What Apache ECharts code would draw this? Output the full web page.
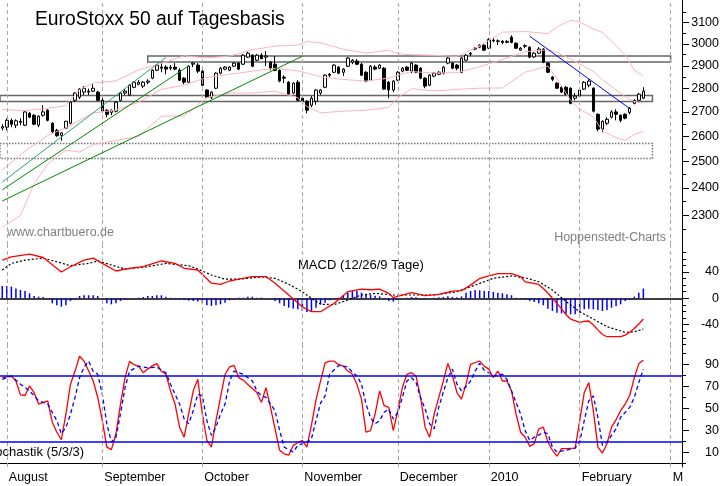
<!DOCTYPE html>
<html>
<head>
<meta charset="utf-8">
<script src="https://cdn.jsdelivr.net/npm/echarts@6/dist/echarts.min.js"></script>
<style>
  html, body { margin: 0; padding: 0; background: #fff; }
  #chart { width: 723px; height: 486px; }
</style>
</head>
<body>
<div id="chart"></div>
<script>
// Handelstage (Jul 31 2009 .. Mar 3 2010), ohne Wochenenden/Feiertage
const holidays = ['2009-12-24', '2009-12-25', '2009-12-31', '2010-01-01'];
function tradingDays(from, to) {
  const out = [];
  let d = new Date(from + 'T00:00:00Z');
  const end = new Date(to + 'T00:00:00Z');
  while (d <= end) {
    const s = d.toISOString().slice(0, 10);
    const wd = d.getUTCDay();
    if (wd !== 0 && wd !== 6 && holidays.indexOf(s) < 0) out.push(s);
    d = new Date(d.getTime() + 86400000);
  }
  return out;
}
const days = tradingDays('2009-07-31', '2010-03-03');

const monthNames = {
  '2009-08': 'August', '2009-09': 'September', '2009-10': 'October',
  '2009-11': 'November', '2009-12': 'December', '2010-01': '2010',
  '2010-02': 'February', '2010-03': 'M'
};

// Kerzen: [open, high, low, close]
const candles = [
  [2633,2649,2624,2639],[2637,2673,2624,2665],[2665,2673,2637,2649],[2645,2669,2633,2663],[2661,2673,2645,2657],
  [2645,2703,2641,2700],[2694,2700,2674,2678],[2686,2690,2645,2649],[2645,2686,2637,2682],[2686,2728,2680,2700],
  [2707,2711,2661,2665],[2653,2657,2614,2618],[2624,2630,2598,2602],[2604,2616,2582,2614],[2633,2663,2629,2661],
  [2653,2745,2649,2741],[2749,2784,2741,2780],[2762,2801,2754,2797],[2784,2810,2771,2801],[2788,2799,2771,2784],
  [2788,2818,2784,2801],[2784,2790,2745,2749],[2749,2758,2698,2703],[2707,2711,2678,2690],[2698,2711,2686,2707],
  [2703,2745,2698,2741],[2749,2784,2745,2780],[2780,2797,2771,2788],[2771,2818,2767,2814],[2805,2832,2801,2827],
  [2818,2836,2814,2827],[2810,2832,2801,2827],[2827,2840,2818,2832],[2845,2884,2840,2880],[2880,2907,2876,2903],
  [2894,2912,2871,2889],[2894,2903,2862,2885],[2889,2903,2880,2894],[2894,2912,2880,2885],[2880,2889,2832,2836],
  [2845,2849,2818,2827],[2827,2903,2823,2898],[2907,2916,2894,2912],[2903,2912,2867,2876],[2876,2880,2810,2814],
  [2793,2797,2758,2762],[2762,2788,2754,2784],[2801,2871,2797,2867],[2867,2894,2862,2889],[2885,2898,2880,2894],
  [2880,2898,2876,2894],[2898,2916,2894,2912],[2912,2916,2880,2885],[2907,2953,2903,2948],[2939,2967,2935,2957],
  [2948,2953,2894,2898],[2925,2953,2921,2948],[2948,2957,2930,2932],[2939,2967,2898,2944],[2916,2921,2880,2889],
  [2907,2944,2876,2880],[2880,2885,2827,2832],[2849,2858,2823,2845],[2827,2832,2771,2775],[2780,2827,2775,2823],
  [2827,2836,2745,2749],[2758,2771,2741,2745],[2745,2749,2694,2707],[2728,2767,2720,2758],[2745,2797,2730,2793],
  [2780,2797,2771,2793],[2805,2862,2801,2858],[2862,2867,2849,2858],[2871,2907,2867,2903],[2894,2898,2862,2867],
  [2871,2889,2854,2885],[2898,2939,2894,2935],[2916,2930,2907,2925],[2921,2930,2903,2907],[2907,2912,2854,2858],
  [2871,2876,2827,2832],[2836,2903,2832,2898],[2894,2903,2880,2885],[2889,2907,2885,2903],[2889,2894,2793,2797],
  [2827,2832,2758,2793],[2793,2836,2784,2832],[2836,2876,2832,2871],[2876,2894,2871,2889],[2894,2898,2876,2880],
  [2876,2916,2867,2912],[2903,2907,2867,2871],[2889,2894,2840,2845],[2845,2849,2801,2810],[2814,2862,2810,2858],
  [2854,2871,2849,2867],[2862,2876,2858,2871],[2867,2898,2862,2894],[2912,2939,2907,2935],[2912,2916,2885,2889],
  [2903,2907,2880,2889],[2871,2939,2867,2935],[2925,2953,2921,2948],[2953,2962,2944,2957],[2976,2985,2971,2980],
  [2985,2998,2980,2994],[2994,2998,2967,2971],[2980,3026,2976,3021],[3017,3026,3007,3014],[3012,3021,2994,3014],
  [3012,3017,2998,3007],[3007,3017,3003,3012],[3031,3040,3003,3007],[3003,3007,2976,2980],[2971,2985,2967,2980],
  [2989,2998,2980,2992],[2985,2989,2935,2939],[2940,2962,2935,2957],[2957,2985,2953,2976],[2976,2980,2912,2916],
  [2912,2916,2867,2871],[2850,2854,2832,2840],[2823,2827,2797,2801],[2805,2810,2780,2784],[2805,2810,2771,2775],
  [2801,2805,2732,2736],[2758,2780,2749,2767],[2767,2797,2762,2793],[2797,2832,2793,2827],[2814,2840,2805,2832],
  [2801,2805,2698,2703],[2690,2694,2620,2629],[2629,2665,2616,2661],[2653,2678,2645,2669],[2678,2707,2673,2700],
  [2700,2711,2665,2690],[2686,2690,2657,2665],[2690,2694,2669,2674],[2698,2720,2690,2715],[2736,2753,2732,2749],
  [2749,2780,2745,2775],[2758,2805,2754,2788]
];

// Bollinger-Bänder: [Tag-Index, Kurs]
const bbUpper = [[0,2710],[5,2705],[10,2715],[14,2727],[17,2795],[20,2823],[25,2833],[30,2882],[35,2910],[40,2945],
  [45,2935],[50,2944],[55,2972],[60,2990],[65,2994],[67,3011],[70,3005],[75,2975],[80,2957],[85,2971],[87,2955],
  [90,2950],[95,2947],[100,2943],[105,2991],[110,3055],[115,3058],[120,3048],[122,3080],[125,3112],[127,3104],
  [130,3070],[132,3054],[135,2993],[137,2948],[139,2880],[141,2855]];
const bbMiddle = [[0,2468],[5,2540],[10,2603],[14,2634],[17,2665],[20,2695],[25,2708],[30,2741],[35,2796],[40,2814],
  [45,2848],[50,2862],[55,2876],[60,2889],[65,2877],[67,2867],[70,2851],[75,2839],[80,2832],[85,2845],[87,2858],
  [90,2874],[95,2868],[100,2869],[105,2896],[110,2928],[115,2964],[120,2973],[122,2961],[125,2930],[127,2908],
  [130,2874],[132,2838],[135,2793],[137,2765],[139,2744],[141,2737]];
const bbLower = [[0,2258],[4,2300],[7,2415],[10,2490],[14,2545],[17,2537],[20,2567],[25,2583],[30,2600],[35,2682],
  [40,2683],[45,2761],[50,2780],[55,2780],[60,2788],[65,2760],[67,2723],[70,2696],[75,2703],[80,2707],[85,2719],
  [87,2760],[90,2799],[95,2789],[100,2796],[105,2801],[110,2802],[115,2871],[120,2899],[122,2843],[125,2748],
  [127,2712],[130,2679],[132,2622],[135,2594],[137,2583],[139,2608],[141,2619]];

// Unterstützungs-/Widerstandszonen
const zones = [
  { from: null, to: 143, lo: 2744, hi: 2769, dotted: false },
  { from: 32, to: 147, lo: 2917, hi: 2944, dotted: false },
  { from: null, to: 143, lo: 2512, hi: 2571, dotted: true }
];
// Trendlinien: [[Index, Kurs], [Index, Kurs], Farbe]
const trendLines = [
  [[0, 2422], [36, 2938], '#2f9f70'],
  [[0, 2393], [41, 2900], '#008a00'],
  [[0, 2352], [66, 2943], '#008a00'],
  [[116, 3036], [138, 2714], '#0000ff']
];

// MACD (12/26/9)
const macdLine = [[0,58],[2,63],[6,67],[9,62],[11,51],[13,40],[15,48],[18,58],[20,61],[22,53],[25,41.5],[27,44.5],
  [31,48],[35,56.7],[38,53],[40,45.6],[43,43],[46,23],[48,21.3],[50,26.3],[52,29],[55,33],[58,33],[60,23],[63,5],
  [66,-13],[68,-20.4],[70,-20.4],[73,-7.6],[76,10],[79,14],[81,13],[83,14],[85,7.6],[86,1],[88,5],[90,8.5],[93,4],
  [96,6],[99,11],[101,11.6],[103,20],[105,30],[107,34],[109,37.4],[112,37.4],[114,33],[115,25],[118,21],[119,15],
  [120,8],[121,0],[122,-7.6],[123,-16],[124,-25],[125,-31.5],[127,-36.5],[128,-35],[129,-34.5],[130,-40.6],
  [131,-48],[132,-55],[133,-58.4],[136,-58.4],[137,-56],[138,-51.7],[139,-46],[140,-39],[141,-31.5]];
const macdSignal = [[0,43],[2,53],[5,58],[9,61],[12,55.6],[15,49.5],[19,53],[21,56.7],[24,50.6],[27,44.5],[32,48],
  [36,53],[41,49.5],[43,44.5],[46,35.4],[49,29],[52,29],[57,32.4],[60,30.4],[63,21.3],[66,10],[68,0],[70,-9],
  [73,-9.6],[76,-2.6],[79,5],[82,7.6],[86,5],[90,5],[95,5],[100,10],[104,20],[108,30.4],[112,34],[115,31.3],
  [118,25.2],[121,12.6],[124,-5],[127,-20.4],[130,-31.5],[133,-43.2],[137,-51.7],[139,-51],[141,-46.7]];
const macdHist = [18.7,18.7,17.7,14.7,12.7,11.1,7.6,3.5,2.5,2,0,-7.6,-10.6,-12.7,-10.6,-4,-1.5,3.5,4.6,4.6,
  4.6,3.5,0,-7.6,-9.1,-7.6,-4,-1.5,0,0,1,2,3.5,3.5,4.6,4.6,2.5,1,-0.5,-1.5,
  -2.5,-3.5,-4,-5,-7.6,-10.6,-11.6,-10.6,-9.1,-6.6,-3,-0.5,1,1,2.5,2.5,1,1,0,0,
  -4,-7.6,-11.6,-14.2,-15.7,-16.7,-19.3,-20.8,-19.3,-14.2,-9.1,-6.6,-3,-0.5,1,4.6,8.6,11.1,11.1,8.6,
  5,5,4,3,-1,-4,-5,-2,0,1,2,1.5,0,-1,0,1,1.5,2,3,2,
  1.5,3,8.6,11.1,12.7,12.2,11.1,11.1,9.6,8.6,7.6,6.1,4.6,1,-1,-1.5,-4,-5.6,-7.6,-10.6,
  -15.7,-19.3,-21.8,-22.8,-23.3,-24.3,-24.3,-21.8,-16.7,-15.7,-16.7,-17.7,-19.3,-17.7,-14.2,-11.6,-9.1,-4,-2.5,2.5,
  8.6,14.7];

// Stochastik (5/3/3)
const stochK = [[0,78.2],[2,79.7],[3,75.2],[4,62.6],[5,62],[6,70.7],[7,64.7],[8,54.2],[10,57.2],[11,37.7],[12,28.6],
  [13,21.8],[14,45.2],[15,72.3],[16,84.2],[17,97.7],[18,93.2],[19,84.2],[20,75.2],[21,60.2],[22,39.2],[23,15.1],
  [24,12.8],[25,27.2],[26,54.2],[27,78.2],[28,93],[29,90],[30,88.5],[31,82.7],[32,86],[33,89],[34,91],[35,84],
  [36,81.3],[37,66.2],[38,54.2],[39,33.2],[40,24.1],[41,45.2],[42,66.2],[43,76.8],[44,45],[45,21.2],[46,15.1],
  [47,39.2],[48,60.2],[49,81.3],[50,88],[51,89.4],[52,78.2],[53,76],[54,72],[56,64.7],[57,55.7],[58,69.2],[59,51.2],
  [60,31.7],[61,12.2],[62,9],[63,7.7],[64,16.7],[65,19],[66,21.2],[67,15.1],[68,35],[69,58],[70,75],[71,91.7],
  [72,93.2],[73,93.2],[74,90],[75,88.7],[76,84.2],[77,81.3],[78,72.3],[79,58.7],[80,28.6],[81,30.1],[82,45.2],
  [83,66.2],[84,52.7],[85,51.2],[86,30.1],[87,48.2],[88,69.2],[89,81.3],[90,82.7],[91,79.7],[92,60.2],[93,33.2],
  [94,24.1],[95,45.2],[96,60],[97,75.2],[98,91.2],[99,80],[100,64.7],[101,58.7],[102,72.3],[103,90.3],[104,92],
  [105,93.2],[106,88.7],[107,86],[108,78.2],[109,84.2],[110,75.2],[111,75.2],[112,66.2],[113,45.2],[114,28.6],
  [115,24.1],[116,15.8],[117,18.2],[118,31.7],[119,33.2],[120,19.7],[121,12.2],[122,6.8],[123,13.7],[124,13.7],
  [126,14.2],[127,39.2],[128,64.7],[129,73.7],[130,48.2],[131,15.1],[132,9.7],[133,18.2],[134,33.2],[135,40],
  [136,48.2],[137,54.2],[138,62],[139,78],[140,91],[141,94.1]];
const stochD = [[0,76.7],[2,79.7],[4,72.3],[6,66.2],[8,57.2],[10,54.2],[12,39.2],[13,27.2],[14,33],[15,45],[16,60.2],
  [17,78.2],[18,88],[19,93.2],[20,84],[21,81.3],[22,63.2],[23,36.2],[24,19.7],[25,24.1],[26,45.2],[27,69.2],[28,84.2],
  [30,88.7],[32,87],[34,87.8],[35,85],[36,82.7],[37,72.3],[39,54.2],[40,40.7],[41,36.2],[42,48.2],[43,63.2],[44,61.7],
  [45,39.2],[46,25.7],[47,33.2],[48,45],[49,54.2],[50,75.2],[51,84.2],[53,81.3],[55,75.2],[56,66.2],[57,61.7],
  [58,60.2],[60,48.2],[61,30.1],[62,15.1],[64,10.6],[65,16.7],[67,19.7],[68,22.7],[69,39.2],[70,55],[71,61.7],
  [72,81.3],[74,89.4],[76,88],[77,83],[78,80],[79,72.3],[80,54.2],[81,42],[82,36.2],[83,39.2],[84,46.7],[85,49.7],
  [86,40.7],[87,46.7],[88,60.2],[89,75.2],[90,78.2],[91,74],[92,60],[93,50],[94,36.2],[95,31.7],[96,51.2],[97,65],
  [98,78],[99,86],[100,72.3],[101,66.2],[102,70],[103,75.2],[104,84.2],[105,91.2],[106,85],[107,82.7],[108,79.7],
  [109,80.5],[110,81.3],[111,76.7],[112,66.2],[114,45.2],[115,30.1],[116,21.2],[117,24.1],[118,26],[119,28.6],
  [120,27.2],[121,15.1],[122,10.6],[124,12.2],[126,14.2],[127,19.7],[128,39.2],[129,57.2],[130,61.7],[131,42.2],
  [132,16.7],[133,19.7],[135,31.7],[136,42.2],[138,51.2],[139,60.2],[140,73.7],[141,86]];

// Achsenbeschriftung
const priceLabels = [2300, 2400, 2500, 2600, 2700, 2800, 2900, 3000, 3100];
const priceMinor = [2250, 2350, 2450, 2550, 2650, 2750, 2850, 2950, 3050, 3150];
const macdLabels = [-40, 0, 40];
const macdMinor = [-70, -60, -50, -30, -20, -10, 10, 20, 30, 50, 60, 70];
const stochLabels = [10, 30, 50, 70, 90];
const stochMinor = [0, 20, 40, 60, 80, 100];

const L = Math.log;
const FONT = 'Liberation Sans, Arial, sans-serif';
const monthStarts = days.filter((d, i) => i > 0 && d.slice(0, 7) !== days[i - 1].slice(0, 7));
const isMonthStart = v => monthStarts.indexOf(v) >= 0;
const isMonday = v => new Date(v + 'T00:00:00Z').getUTCDay() === 1;

const monthLines = monthStarts.map(d => ({ xAxis: d }));
const dashStyle = { color: '#a8a8a8', type: [4, 3], width: 1 };

function hiddenX(grid, showLine) {
  return {
    type: 'category', gridIndex: grid, position: 'bottom', data: days,
    axisLine: { show: showLine, lineStyle: { color: '#000', width: 1.5 } },
    axisTick: { show: false }, axisLabel: { show: false }, splitLine: { show: false }
  };
}
function rightY(grid, min, max, ticks, labelFn, minor) {
  return {
    type: 'value', gridIndex: grid, position: 'right', min: min, max: max,
    axisLine: { show: !minor, lineStyle: { color: '#000', width: 1 } },
    axisTick: { show: true, length: minor ? 4 : 7, customValues: ticks, lineStyle: { color: '#000' } },
    axisLabel: minor ? { show: false } : {
      show: true, customValues: ticks, formatter: labelFn, align: 'right', margin: 37,
      color: '#000', fontSize: 12.5, fontFamily: FONT
    },
    splitLine: { show: false }
  };
}
const lineSeries = (name, data, xi, yi, color, width, type) => ({
  name: name, type: 'line', xAxisIndex: xi, yAxisIndex: yi, data: data,
  symbol: 'none', silent: true,
  lineStyle: { color: color, width: width, type: type || 'solid' }
});

const chart = echarts.init(document.getElementById('chart'));
chart.setOption({
  animation: false,
  backgroundColor: '#fff',
  grid: [
    { left: 0, right: 41, top: 0, height: 245 },
    { left: 0, right: 41, top: 245, height: 101 },
    { left: 0, right: 41, top: 346, height: 121 }
  ],
  xAxis: [
    hiddenX(0, false),
    hiddenX(1, true),
    {
      type: 'category', gridIndex: 2, position: 'bottom', data: days,
      axisLine: { lineStyle: { color: '#000', width: 1 } },
      axisTick: { alignWithLabel: true, length: 3, interval: (i, v) => isMonday(v), lineStyle: { color: '#000' } },
      axisLabel: { show: false }, splitLine: { show: false }
    },
    {
      type: 'category', gridIndex: 2, position: 'bottom', offset: 0, data: days,
      axisLine: { show: false },
      axisTick: { alignWithLabel: true, length: 19, interval: (i, v) => isMonthStart(v), lineStyle: { color: '#000' } },
      axisLabel: {
        interval: (i, v) => isMonthStart(v),
        formatter: v => monthNames[v.slice(0, 7)] || '',
        align: 'left', margin: 4, padding: [0, 0, 0, 2],
        color: '#000', fontSize: 12.5, fontFamily: FONT
      },
      splitLine: { show: false }
    }
  ],
  yAxis: [
    rightY(0, L(2197), L(3211), priceLabels.map(L), v => Math.round(Math.exp(v)), false),
    rightY(0, L(2197), L(3211), priceMinor.map(L), null, true),
    rightY(1, -72.5, 81, macdLabels, v => Math.round(v), false),
    rightY(1, -72.5, 81, macdMinor, null, true),
    rightY(2, -3, 107, stochLabels, v => Math.round(v), false),
    rightY(2, -3, 107, stochMinor, null, true)
  ],
  series: [
    {
      type: 'candlestick', xAxisIndex: 0, yAxisIndex: 0, barWidth: 3, silent: true,
      data: candles.map(([o, h, l, c]) => [L(o), L(c), L(l), L(h)]),
      itemStyle: { color: '#fff', color0: '#000', borderColor: '#000', borderColor0: '#000', borderWidth: 1 },
      markArea: {
        silent: true,
        data: zones.map(z => [
          z.from === null ? { yAxis: L(z.hi) } : { xAxis: days[z.from], yAxis: L(z.hi) },
          {
            xAxis: days[z.to], yAxis: L(z.lo),
            itemStyle: { color: 'rgba(0,0,0,0)', borderColor: z.dotted ? '#777' : '#666', borderWidth: 1.5, borderType: z.dotted ? 'dotted' : 'solid' }
          }
        ])
      },
      markLine: {
        silent: true, symbol: 'none', label: { show: false },
        data: monthLines.map(m => Object.assign({ lineStyle: dashStyle }, m)).concat(
          trendLines.map(t => [
            { coord: [days[t[0][0]], L(t[0][1])], lineStyle: { color: t[2], width: 1, type: 'solid' } },
            { coord: [days[t[1][0]], L(t[1][1])] }
          ])
        )
      }
    },
    lineSeries('BB oben', bbUpper.map(([i, v]) => [days[i], L(v)]), 0, 0, '#ffb3bd', 1),
    lineSeries('BB Mitte', bbMiddle.map(([i, v]) => [days[i], L(v)]), 0, 0, '#ffb3bd', 1),
    lineSeries('BB unten', bbLower.map(([i, v]) => [days[i], L(v)]), 0, 0, '#ffb3bd', 1),
    {
      type: 'bar', xAxisIndex: 1, yAxisIndex: 2, data: macdHist, barWidth: 1.5, silent: true,
      itemStyle: { color: '#0000ff' },
      markLine: { silent: true, symbol: 'none', label: { show: false }, lineStyle: dashStyle, data: monthLines }
    },
    lineSeries('Signal', macdSignal.map(([i, v]) => [days[i], v]), 1, 2, '#000', 1.2, [2, 2]),
    lineSeries('MACD', macdLine.map(([i, v]) => [days[i], v]), 1, 2, '#ff0000', 1.3),
    Object.assign(lineSeries('%K', stochK.map(([i, v]) => [days[i], v]), 2, 4, '#ff0000', 1.3), {
      markLine: {
        silent: true, symbol: 'none', label: { show: false },
        data: monthLines.map(m => Object.assign({ lineStyle: dashStyle }, m)).concat([
          { yAxis: 80, lineStyle: { color: '#0000ff', width: 1.5, type: 'solid' } },
          { yAxis: 20, lineStyle: { color: '#0000ff', width: 1.5, type: 'solid' } }
        ])
      }
    }),
    lineSeries('%D', stochD.map(([i, v]) => [days[i], v]), 2, 4, '#0000ff', 1.3, [4, 3])
  ],
  graphic: [
    { type: 'text', x: 35, y: 20, silent: true,
      style: { text: 'EuroStoxx 50 auf Tagesbasis', fontSize: 19.3, fontFamily: FONT, fill: '#000', verticalAlign: 'middle' } },
    { type: 'text', x: 298, y: 265, silent: true,
      style: { text: 'MACD (12/26/9 Tage)', fontSize: 13, fontFamily: FONT, fill: '#000', verticalAlign: 'middle' } },
    { type: 'text', x: -17, y: 452, silent: true,
      style: { text: 'Stochastik (5/3/3)', fontSize: 13, fontFamily: FONT, fill: '#000', verticalAlign: 'middle' } },
    { type: 'text', x: 7, y: 233, silent: true,
      style: { text: 'www.chartbuero.de', fontSize: 12.5, fontFamily: FONT, fill: '#808080', verticalAlign: 'middle' } },
    { type: 'text', x: 666, y: 238, silent: true,
      style: { text: 'Hoppenstedt-Charts', fontSize: 12.5, fontFamily: FONT, fill: '#808080', align: 'right', verticalAlign: 'middle' } }
  ]
});
</script>
</body>
</html>
